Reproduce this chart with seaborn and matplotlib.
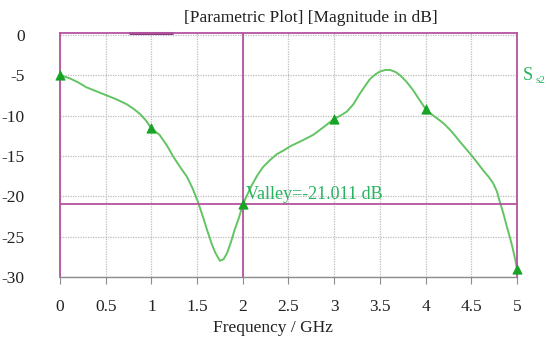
import matplotlib
matplotlib.use("Agg")
import matplotlib.pyplot as plt
import pandas as pd
import seaborn as sns

# S-parameter magnitude curve
freq = [0.0, 0.11, 0.2, 0.29, 0.4, 0.51, 0.62, 0.73, 0.81, 0.875, 0.94, 1.0, 1.09,
        1.17, 1.24, 1.31, 1.39, 1.45, 1.51, 1.56, 1.61, 1.66, 1.70, 1.75, 1.79,
        1.83, 1.87, 1.91, 1.96, 2.0, 2.05, 2.10, 2.16, 2.22, 2.30, 2.37, 2.45,
        2.52, 2.65, 2.77, 2.9, 3.0, 3.07, 3.14, 3.21, 3.28, 3.34, 3.39, 3.45,
        3.5, 3.56, 3.61, 3.67, 3.72, 3.79, 3.86, 3.93, 4.0, 4.06, 4.12, 4.2,
        4.27, 4.33, 4.38, 4.44, 4.5, 4.57, 4.63, 4.69, 4.74, 4.78, 4.81, 4.85,
        4.89, 4.92, 4.95, 4.98, 5.0]
mag_db = [-5.0, -5.4, -5.9, -6.5, -7.0, -7.5, -8.0, -8.6, -9.2, -9.8, -10.6,
          -11.6, -12.4, -13.7, -15.1, -16.3, -17.6, -19.0, -20.7, -22.4, -24.2,
          -25.9, -27.0, -28.0, -27.8, -27.0, -25.7, -24.2, -22.6, -21.011, -19.8,
          -18.6, -17.4, -16.4, -15.5, -14.8, -14.3, -13.8, -13.1, -12.4, -11.3,
          -10.4, -10.0, -9.5, -8.6, -7.3, -6.3, -5.5, -4.9, -4.55, -4.35, -4.35,
          -4.6, -5.0, -5.8, -6.8, -8.0, -9.2, -9.8, -10.3, -11.0, -11.8, -12.6,
          -13.3, -14.1, -14.9, -15.9, -16.8, -17.6, -18.4, -19.4, -20.6, -22.1,
          -23.8, -25.0, -26.3, -27.8, -29.0]

# triangle markers at the integer frequencies
marker_freq = [0, 1, 2, 3, 4, 5]
marker_db = [-5.0, -11.6, -21.011, -10.4, -9.2, -29.0]

valley_freq = 2.0
valley_db = -21.011

x_ticks = [0, 0.5, 1, 1.5, 2, 2.5, 3, 3.5, 4, 4.5, 5]
x_labels = ["0", "0.5", "1", "1.5", "2", "2.5", "3", "3.5", "4", "4.5", "5"]
y_ticks = [0, -5, -10, -15, -20, -25, -30]

curve = pd.DataFrame({"freq": freq, "db": mag_db})
marks = pd.DataFrame({"freq": marker_freq, "db": marker_db})

sns.set_style("white")
plt.rcParams["font.family"] = ["Liberation Serif", "DejaVu Serif"]
plt.rcParams["axes.unicode_minus"] = False

purple = "#b5529f"
green_line = "#62c462"
green_mark = "#17a324"
green_text = "#25b35e"

fig = plt.figure(figsize=(5.5, 3.39), dpi=100)
ax = fig.add_axes([0.109, 0.183, 0.831, 0.719])

sns.lineplot(data=curve, x="freq", y="db", ax=ax, color=green_line, linewidth=1.4)
sns.scatterplot(data=marks, x="freq", y="db", ax=ax, marker="^", s=45,
                color=green_mark, edgecolor=green_mark, zorder=5, clip_on=False)

ax.set_xlim(0, 5)
ax.set_ylim(-30, 0.2)
ax.set_xticks(x_ticks)
ax.set_xticklabels(x_labels)
ax.set_yticks(y_ticks)

ax.grid(True, color="#bdbdbd", linestyle=(0, (1, 1)), linewidth=0.9)
ax.set_axisbelow(True)

# marker lines
ax.axvline(valley_freq, color=purple, linewidth=1.3, zorder=3)
ax.axhline(valley_db, color=purple, linewidth=1.3, zorder=3)

for side in ["left", "right", "top"]:
    ax.spines[side].set_color(purple)
    ax.spines[side].set_linewidth(1.3)
ax.spines["bottom"].set_color("#8c8c8c")
ax.spines["bottom"].set_linewidth(1.0)
ax.axhline(0.2, xmin=0.153, xmax=0.245, color="#8a3a80", linewidth=2.2, clip_on=False)

ax.tick_params(axis="x", bottom=True, length=5, color="#8c8c8c", pad=11,
               labelsize=12.5, labelcolor="#222222")
ax.tick_params(axis="y", left=False, pad=22, labelsize=12.5, labelcolor="#222222")

ax.set_xlabel("Frequency / GHz", fontsize=12.5, color="#222222")
ax.xaxis.set_label_coords(0.466, -0.178)
ax.set_ylabel("")

ax.text(valley_freq + 0.04, valley_db + 1.2, "Valley=-21.011 dB",
        fontsize=13, color=green_text, va="center", ha="left")
ax.text(1.012, -5.0, "S", transform=ax.get_yaxis_transform(),
        fontsize=13, color=green_text, va="center", ha="left")
ax.text(1.04, -5.6, "s2", transform=ax.get_yaxis_transform(),
        fontsize=8, color=green_text, va="center", ha="left")

fig.text(0.566, 0.948, "[Parametric Plot] [Magnitude in dB]", fontsize=12.5,
         color="#222222", ha="center", va="center")

fig.savefig("out.png", dpi=100)
